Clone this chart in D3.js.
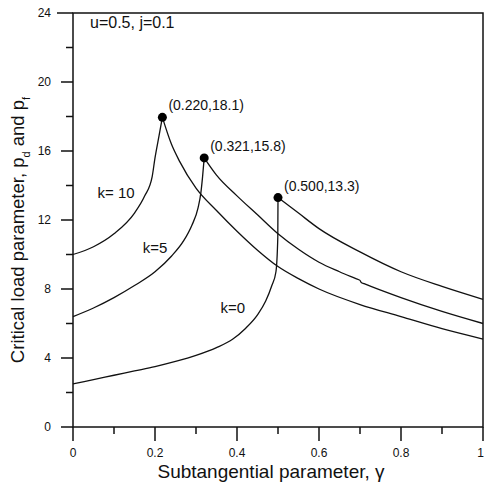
<!DOCTYPE html>
<meta charset="utf-8">
<style>
body { margin: 0; background: #fff; }
svg text { font-family: "Liberation Sans", Arial, sans-serif; fill: #111; }
.curve { fill: none; stroke: #111; stroke-width: 1.3px; }
.frame { fill: none; stroke: #111; stroke-width: 1.5px; }
.tick { stroke: #111; stroke-width: 1.5px; }
</style>
<body>
<script src="https://d3js.org/d3.v7.min.js"></script>
<script>
// stability branches, [gamma, p]
var k10Rise = [[0,10.0],[0.05,10.45],[0.1,11.2],[0.15,12.4],[0.175,13.4],[0.193,14.5],[0.2,15.6],[0.21,16.9],[0.218,17.95]];
var k10Fall = [[0.218,17.95],[0.24,16.4],[0.26,15.4],[0.3,13.85],[0.35,12.55],[0.4,11.35],[0.45,10.25],[0.5,9.3],[0.55,8.6],[0.6,8.0],[0.7,7.1],[0.8,6.4],[0.9,5.7],[1.0,5.1]];
var k5Rise = [[0,6.4],[0.05,6.9],[0.1,7.5],[0.15,8.2],[0.2,9.0],[0.24,9.9],[0.27,10.8],[0.29,11.7],[0.305,12.7],[0.312,13.6],[0.316,14.5],[0.320,15.6]];
var k5Fall = [[0.320,15.6],[0.35,14.6],[0.4,13.4],[0.45,12.3],[0.5,11.2],[0.55,10.3],[0.6,9.55],[0.65,9.0],[0.69,8.6],[0.70,8.5],[0.703,8.38],[0.71,8.31],[0.8,7.5],[0.9,6.7],[1.0,6.0]];
var k0Rise = [[0,2.5],[0.05,2.75],[0.1,3.0],[0.15,3.25],[0.2,3.5],[0.25,3.8],[0.3,4.15],[0.35,4.6],[0.39,5.1],[0.42,5.7],[0.45,6.5],[0.47,7.3],[0.485,8.2],[0.495,9.0],[0.4995,11],[0.5,13.3]];
var k0Fall = [[0.5,13.3],[0.55,12.4],[0.6,11.5],[0.7,10.15],[0.8,9.0],[0.9,8.15],[1.0,7.4]];

var peaks = [[0.218,17.95],[0.320,15.6],[0.500,13.3]];
var peakLabels = ["(0.220,18.1)", "(0.321,15.8)", "(0.500,13.3)"];
var kLabels = ["k= 10", "k=5", "k=0"];
var kLabelPos = [[0.06,13.3],[0.17,10.1],[0.36,6.6]];

var xTicks = [0, 0.2, 0.4, 0.6, 0.8, 1];
var yTicks = [0, 4, 8, 12, 16, 20, 24];

var width = 484, height = 486;
var svg = d3.select("body").append("svg")
    .attr("width", width).attr("height", height);

var x = d3.scaleLinear().domain([0, 1]).range([73, 483]);
var y = d3.scaleLinear().domain([0, 24]).range([427, 13]);

// frame
svg.append("rect").attr("class", "frame")
    .attr("x", x(0)).attr("y", y(24))
    .attr("width", x(1) - x(0)).attr("height", y(0) - y(24));

// x ticks
var xMinor = d3.range(0, 1.001, 0.1);
svg.selectAll(".xt").data(xMinor).enter().append("line")
    .attr("class", "tick")
    .attr("x1", d => x(d)).attr("x2", d => x(d))
    .attr("y1", y(0)).attr("y2", (d, i) => y(0) + (i % 2 ? 7 : 14));
svg.selectAll(".xl").data(xTicks).enter().append("text")
    .attr("x", d => d == 1 ? 484 : x(d)).attr("y", 457)
    .attr("text-anchor", d => d == 1 ? "end" : "middle").style("font-size", "12px")
    .text(d => d);

// y ticks
var yMinor = d3.range(0, 24.01, 2);
svg.selectAll(".yt").data(yMinor).enter().append("line")
    .attr("class", "tick")
    .attr("y1", d => y(d)).attr("y2", d => y(d))
    .attr("x1", x(0)).attr("x2", (d, i) => x(0) - (i % 2 ? 7 : (d == 24 ? 16 : 12)));
svg.selectAll(".yl").data(yTicks).enter().append("text")
    .attr("x", 51).attr("y", d => y(d) + 4)
    .attr("text-anchor", "end").style("font-size", "12px")
    .text(d => d);

// axis titles
svg.append("text")
    .attr("x", 271).attr("y", 478)
    .attr("text-anchor", "middle").style("font-size", "19px")
    .text("Subtangential parameter,  \u03b3");

var yt = svg.append("text")
    .attr("transform", "translate(24,230) rotate(-90)")
    .attr("text-anchor", "middle").style("font-size", "18.5px");
yt.append("tspan").text("Critical load parameter,  p");
yt.append("tspan").attr("baseline-shift", "sub").style("font-size", "11px").text("d");
yt.append("tspan").text(" and p");
yt.append("tspan").attr("baseline-shift", "sub").style("font-size", "11px").text("f");

// curves
var line = d3.line().x(d => x(d[0])).y(d => y(d[1])).curve(d3.curveMonotoneX);
[k10Rise, k10Fall, k5Rise, k5Fall, k0Rise, k0Fall].forEach(function (s) {
    svg.append("path").attr("class", "curve").attr("d", line(s));
});

// peaks
svg.selectAll(".pk").data(peaks).enter().append("circle")
    .attr("cx", d => x(d[0])).attr("cy", d => y(d[1])).attr("r", 4.5)
    .attr("fill", "#000");
svg.selectAll(".pl").data(peaks).enter().append("text")
    .attr("x", d => x(d[0]) + 6).attr("y", d => y(d[1]) - 7)
    .style("font-size", "14px")
    .text((d, i) => peakLabels[i]);

svg.selectAll(".kl").data(kLabelPos).enter().append("text")
    .attr("x", d => x(d[0])).attr("y", d => y(d[1]))
    .style("font-size", "15px")
    .text((d, i) => kLabels[i]);

svg.append("text").attr("x", 90).attr("y", 28)
    .style("font-size", "16px").text("u=0.5, j=0.1");
</script>
</body>
